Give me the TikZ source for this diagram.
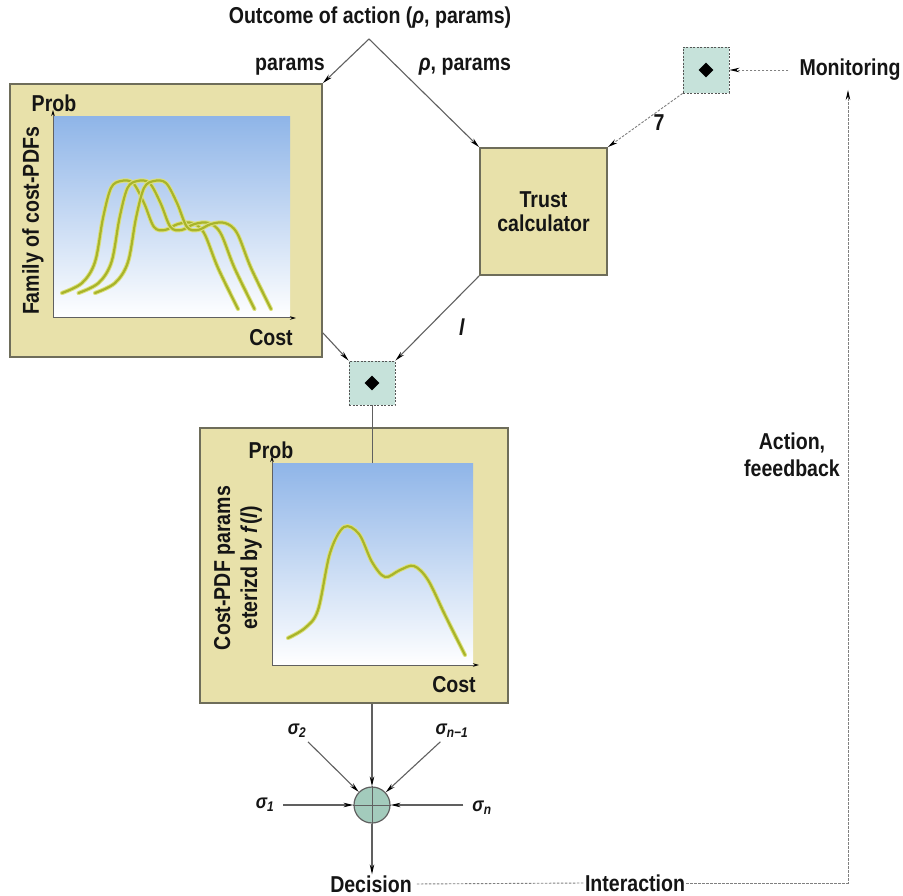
\documentclass[tikz,border=0pt]{standalone}
\usepackage{fontspec}
\setmainfont{Liberation Sans}[FakeStretch=0.85]
\usetikzlibrary{arrows.meta,shapes.geometric,calc}
\definecolor{khaki}{HTML}{E8E1AA}
\definecolor{boxline}{HTML}{6E6D5A}
\definecolor{linegray}{HTML}{606060}
\definecolor{txt}{HTML}{151515}
\definecolor{plotblue}{HTML}{8FB5E8}
\definecolor{sqfill}{HTML}{C6E2DA}
\definecolor{sqline}{HTML}{555555}
\definecolor{sumfill}{HTML}{A3CBBC}
\definecolor{curveglow}{HTML}{DCE07C}
\definecolor{curvecore}{HTML}{A8B42A}
\tikzset{
  box/.style={draw=boxline, line width=1.8pt, fill=khaki, inner sep=0pt},
  tip/.style={-{Stealth[length=10pt,width=4.5pt,color=black]}},
  arr/.style={tip, draw=linegray, line width=1.1pt},
  lbl/.style={font=\fontsize{23}{27}\selectfont\bfseries, text=txt, inner sep=1pt},
  small/.style={font=\fontsize{20}{22}\selectfont\bfseries\itshape, text=txt, inner sep=1pt},
  sq/.style={draw=sqline, dash pattern=on 2pt off 1.5pt, fill=sqfill, line width=0.9pt, inner sep=0pt},
  dia/.style={diamond, fill=black, minimum size=15pt, inner sep=0pt},
  loopline/.style={draw=gray, dash pattern=on 2.5pt off 1.5pt, line width=0.9pt},
  axisline/.style={draw=linegray, line width=1pt, -{Stealth[length=6pt,width=3.5pt,color=black]}},
  glow/.style={draw=curveglow, line width=4.2pt, line cap=round},
  core/.style={draw=curvecore, line width=2.2pt, line cap=round}
}
\begin{document}
\begin{tikzpicture}[x=1pt,y=-1pt]
\useasboundingbox (0,0) rectangle (903,896);
\fill[white] (0,0) rectangle (903,896);

% ---- boxes
\node[box, minimum width=312pt, minimum height=273pt] (fam) at (166,220.5) {};
\node[box, minimum width=308pt, minimum height=275pt] (low) at (354,565.5) {};
\node[box, minimum width=127pt, minimum height=127pt, align=center, lbl] (trust) at (543.5,211.5) {Trust\\[-3pt]calculator};

% ---- upper plot
\shade[top color=plotblue, bottom color=white] (53,117) rectangle (290,318);
\draw[axisline] (53,318) -- (53,110);
\draw[axisline] (53,318) -- (296,318);
\foreach \dx in {0,16.5,33}{
  \begin{scope}[xshift=\dx pt]
  \foreach \st in {glow,core}{
  \draw[\st] plot[smooth, tension=0.55] coordinates {(62,293) (82,283) (95,262) (103,218) (111,188) (121,181) (133,183) (144,203) (154,227) (165,230) (178,224) (192,223) (204,233) (218,268) (238,309)};
  }
  \end{scope}
}
\node[lbl] (prob1) at (54,103) {Prob};
\node[lbl] (cost1) at (271,338) {Cost};
\node[lbl, rotate=90] (famlbl) at (33,221) {Family of cost-PDFs};

% ---- lower plot
\shade[top color=plotblue, bottom color=white] (272,463) rectangle (473,665);
\draw[axisline] (272,665) -- (272,456);
\draw[axisline] (272,665) -- (479,665);
\foreach \st in {glow,core}{
\draw[\st] plot[smooth, tension=0.55] coordinates {(288,638) (305,628) (318,610) (330,553) (344,527) (359,534) (372,562) (385,577) (400,570) (414,566) (428,580) (445,615) (465,655)};
}
\node[lbl] (prob2) at (271,450) {Prob};
\node[lbl] (cost2) at (454,685) {Cost};
\node[lbl, rotate=90, align=center] (lowlbl) at (238,568) {Cost-PDF params\\eterizd by \textit{f}(\textit{l})};

% ---- connector squares
\node[sq, minimum width=46pt, minimum height=44pt] (sq1) at (372,383) {};
\node[dia] (d1) at (sq1) {};
\node[sq, minimum width=46pt, minimum height=46pt] (sq2) at (706,70) {};
\node[dia] (d2) at (sq2) {};

% ---- top labels and V
\node[lbl] (title) at (370,18) {Outcome of action (\textit{ρ}, params)};
\coordinate (apex) at (369,39);
\node[lbl] (lparams) at (290,67) {params};
\node[lbl] (rparams) at (465,67) {\textit{ρ}, params};
\draw[arr] (apex) -- (fam.north east);
\draw[arr] (apex) -- (trust.north west);

% ---- into sq1
\coordinate (famout) at ($(fam.south east)+(0,-25)$);
\draw[arr] (famout) -- (sq1.north west);
\draw[arr] (trust.south west) -- (sq1.north east);
\node[lbl] (llbl) at (462,327) {\textit{l}};
\coordinate (plottop) at (372,463);
\draw[draw=linegray, line width=1pt] (sq1.south) -- (plottop);

% ---- monitoring
\node[lbl] (mon) at (850,70) {Monitoring};
\draw[loopline, tip, shorten <=10pt] (mon.west) -- (sq2.east);
\draw[loopline, tip] (sq2.south west) -- (trust.north east);
\node[lbl] (seven) at (659,123) {7};

% ---- summation
\node[circle, draw=linegray, line width=1.2pt, fill=sumfill, minimum size=36pt, inner sep=0pt] (sum) at (372,805) {};
\draw[linegray, line width=1pt] (sum.north) -- (sum.south) (sum.west) -- (sum.east);
\draw[arr] (sum |- low.south) -- (sum.north);
\node[lbl] (dec) at (371,884) {Decision};
\draw[arr] (sum.south) -- (sum.south |- dec.north);

\node[small] (s1) at (265,805) {σ\textsubscript{1}};
\node[small] (s2) at (297,731) {σ\textsubscript{2}};
\node[small] (snm) at (452,731) {σ\textsubscript{\itshape n−1}};
\node[small] (sn) at (482,808) {σ\textsubscript{\itshape n}};
\draw[arr, shorten <=8pt] (s1.east) -- (sum.west);
\draw[arr, shorten <=8pt] (sn.west |- sum.east) -- (sum.east);
\draw[arr, shorten <=4pt] (s2) -- (sum);
\draw[arr, shorten <=4pt] (snm) -- (sum);

% ---- interaction loop
\node[lbl] (inter) at (635,883) {Interaction};
\node[lbl, align=center] (act) at (792,455) {Action,\\feeedback};
\draw[loopline, shorten <=4pt] (dec.east) -- (inter.west);
\draw[loopline, tip] (inter.east) -| ($(mon.south)+(-2,8)$);
\end{tikzpicture}
\end{document}
